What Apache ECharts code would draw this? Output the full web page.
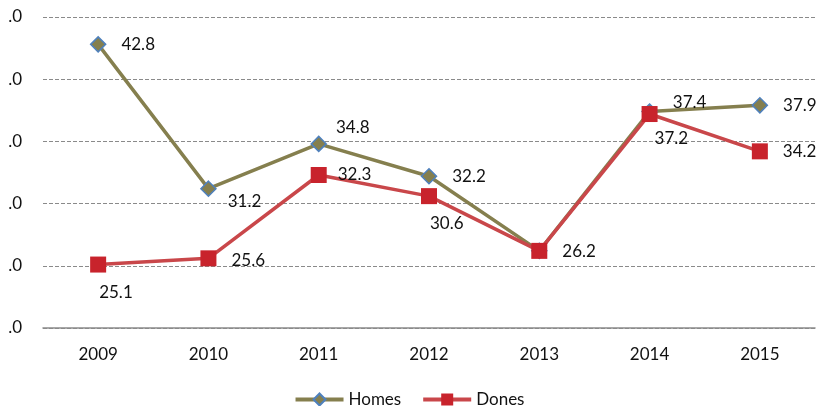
<!DOCTYPE html>
<html>
<head>
<meta charset="utf-8">
<script src="https://cdn.jsdelivr.net/npm/echarts@6/dist/echarts.min.js"></script>
<style>
html,body{margin:0;padding:0;background:#fff;}
#main{width:818px;height:406px;}
</style>
</head>
<body>
<div id="main"></div>
<script>
var years = ['2009','2010','2011','2012','2013','2014','2015'];
var homes = [42.8, 31.2, 34.8, 32.2, 26.2, 37.4, 37.9];
var dones = [25.1, 25.6, 32.3, 30.6, 26.2, 37.2, 34.2];

// label offsets (x, y) from each point
var homesOff = [[18,0],[14,13],[12,-16],[18,0],null,[18,-9],[18,0]];
var donesOff = [[-4,28],[18,2],[14,0],[-4,27],[18,1],[0,24],[18,0]];

var chart = echarts.init(document.getElementById('main'));
var font = 'Lato, "Open Sans", sans-serif';

function buildData(vals, offs){
	var out = [];
	for(var i=0;i<vals.length;i++){
		var o = offs[i];
		if(!o){
			out.push({value:vals[i], label:{show:false}});
		}else{
			out.push({value:vals[i], label:{position:'right', offset:[o[0]-8,o[1]]}});
		}
	}
	return out;
}

var option = {
	animation:false,
	textStyle:{fontFamily:font},
	grid:{left:43, right:3, top:17, bottom:78},
	legend:{
		bottom:-7,
		itemWidth:48,
		itemHeight:15,
		itemGap:20,
		lineStyle:{width:4},
		textStyle:{fontSize:17, color:'#111', fontFamily:font},
		data:['Homes','Dones']
	},
	xAxis:{
		type:'category',
		data:years,
		boundaryGap:true,
		axisLine:{lineStyle:{color:'#8a8a8a', width:1.5}},
		axisTick:{show:false},
		axisLabel:{fontSize:17, color:'#111', margin:18}
	},
	yAxis:{
		type:'value',
		min:20, max:45, interval:5,
		axisLine:{show:false},
		axisTick:{show:false},
		splitLine:{lineStyle:{color:'#8a8a8a', type:[4,2], width:1}},
		axisLabel:{fontSize:17, color:'#111', margin:21, formatter:function(){ return '.0'; }}
	},
	series:[
		{
			name:'Homes',
			type:'line',
			data:buildData(homes, homesOff),
			symbol:'diamond',
			symbolSize:15,
			lineStyle:{color:'#857f4e', width:3.5},
			itemStyle:{color:'#857f4e', borderColor:'#4f81bd', borderWidth:1.5},
			label:{show:true, fontSize:17, color:'#111'},
			z:2
		},
		{
			name:'Dones',
			type:'line',
			data:buildData(dones, donesOff),
			symbol:'rect',
			symbolSize:16,
			lineStyle:{color:'#c9474a', width:3.5},
			itemStyle:{color:'#c8232c', borderColor:'#c8232c', borderWidth:0},
			label:{show:true, fontSize:17, color:'#111'},
			z:3
		}
	]
};
chart.setOption(option);
</script>
</body>
</html>
